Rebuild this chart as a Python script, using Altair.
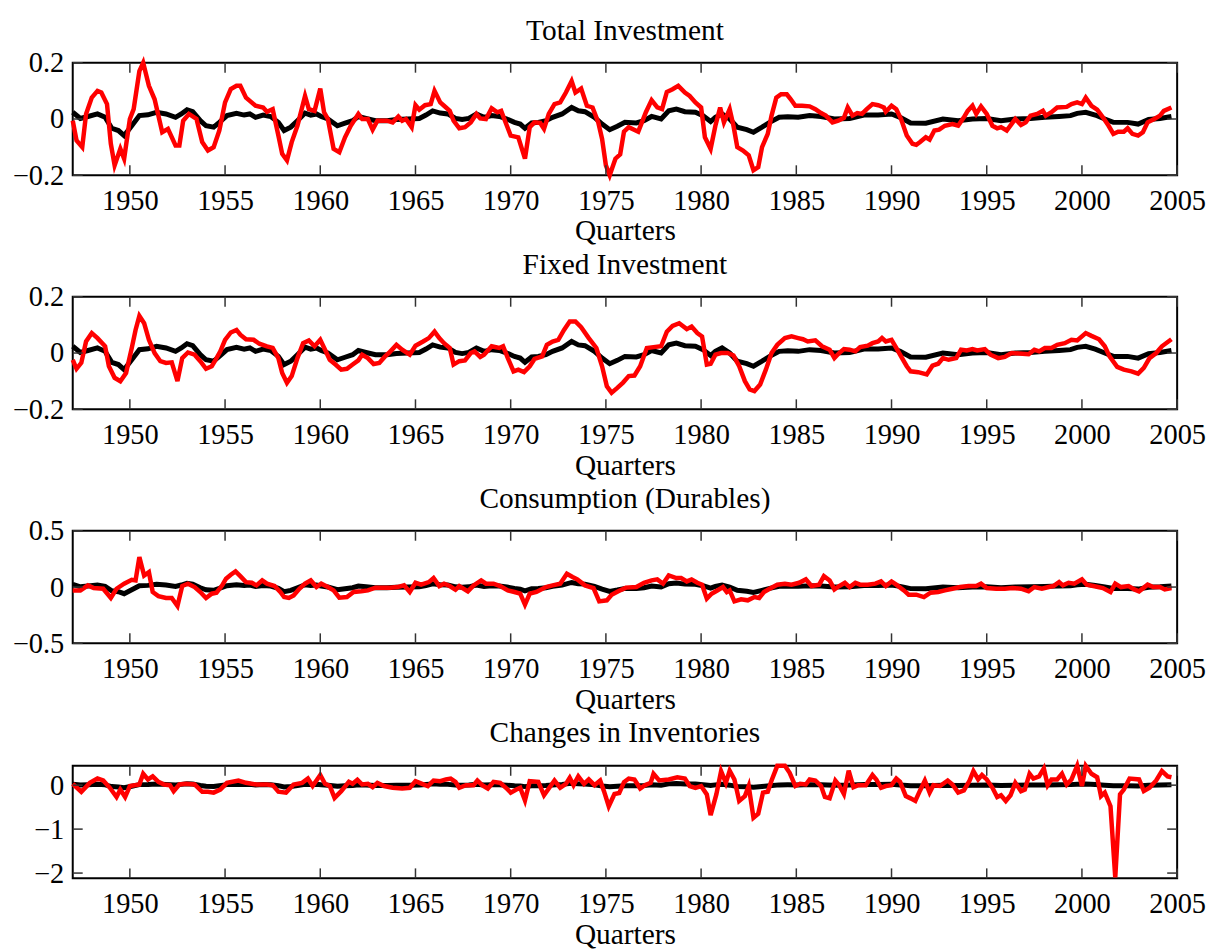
import altair as alt
import pandas as pd

YEAR_TICKS = [1950, 1955, 1960, 1965, 1970, 1975, 1980, 1985, 1990, 1995, 2000, 2005]

# Black series (same cyclical component drawn in every panel): (year, value)
BLACK = [
    (1947.0, 0.024), (1947.4, 0.002), (1947.8, 0.009), (1948.3, 0.018), (1948.7, 0.006),
    (1949.05, -0.033), (1949.4, -0.041), (1949.7, -0.059), (1950.1, -0.024), (1950.5, 0.012),
    (1950.95, 0.015), (1951.4, 0.024), (1951.9, 0.018), (1952.4, 0.006), (1952.7, 0.018),
    (1953.0, 0.033), (1953.3, 0.026), (1953.7, -0.006), (1954.0, -0.024), (1954.4, -0.029),
    (1954.7, -0.012), (1955.1, 0.012), (1955.6, 0.02), (1956.0, 0.014), (1956.3, 0.018),
    (1956.6, 0.006), (1957.0, 0.014), (1957.4, 0.009), (1957.8, -0.012), (1958.1, -0.041),
    (1958.45, -0.029), (1958.8, -0.006), (1959.2, 0.021), (1959.5, 0.014), (1959.8, 0.018),
    (1960.05, 0.009), (1960.4, 0.0), (1960.9, -0.024), (1961.3, -0.015), (1961.7, -0.006),
    (1962.0, 0.009), (1962.4, 0.002), (1962.9, -0.006), (1963.5, -0.006), (1964.0, -0.002),
    (1964.6, 0.0), (1965.2, 0.002), (1965.55, 0.014), (1965.9, 0.029), (1966.3, 0.021),
    (1966.7, 0.018), (1967.1, 0.002), (1967.45, -0.002), (1967.8, 0.002), (1968.2, 0.018),
    (1968.6, 0.006), (1969.0, 0.012), (1969.4, 0.009), (1969.8, 0.0), (1970.2, -0.012),
    (1970.5, -0.018), (1970.75, -0.033), (1971.1, -0.014), (1971.45, -0.012), (1971.85, -0.006),
    (1972.2, 0.006), (1972.7, 0.018), (1973.2, 0.041), (1973.55, 0.029), (1973.9, 0.026),
    (1974.4, 0.006), (1974.8, -0.018), (1975.2, -0.038), (1975.6, -0.026), (1976.0, -0.012),
    (1976.6, -0.014), (1977.0, -0.006), (1977.4, 0.009), (1977.9, 0.0), (1978.3, 0.029),
    (1978.7, 0.035), (1979.15, 0.026), (1979.7, 0.024), (1980.1, 0.012), (1980.5, -0.009),
    (1980.75, 0.006), (1981.1, 0.018), (1981.5, 0.0), (1981.9, -0.029), (1982.4, -0.038),
    (1982.75, -0.047), (1983.2, -0.029), (1983.6, -0.012), (1984.1, 0.006), (1984.55, 0.008),
    (1985.1, 0.006), (1985.7, 0.012), (1986.3, 0.009), (1987.0, 0.0), (1987.8, 0.002),
    (1988.55, 0.014), (1989.3, 0.014), (1990.0, 0.018), (1990.45, 0.006), (1991.0, -0.014),
    (1991.8, -0.015), (1992.7, 0.0), (1993.5, -0.006), (1994.25, 0.0), (1995.0, 0.002),
    (1995.75, -0.006), (1996.5, 0.0), (1997.3, 0.002), (1998.05, 0.006), (1998.8, 0.009),
    (1999.4, 0.012), (1999.75, 0.02), (2000.2, 0.024), (2000.7, 0.014), (2001.2, 0.0),
    (2001.65, -0.012), (2002.4, -0.012), (2002.95, -0.018), (2003.5, -0.002), (2004.1, 0.002),
    (2004.7, 0.009),
]

TOTAL_INV = [
    (1947.0, -0.006), (1947.2, -0.076), (1947.5, -0.1), (1947.7, 0.018), (1948.0, 0.076),
    (1948.3, 0.1), (1948.5, 0.094), (1948.8, 0.053), (1949.0, -0.088), (1949.2, -0.165),
    (1949.5, -0.106), (1949.7, -0.141), (1950.0, 0.0), (1950.2, 0.035), (1950.5, 0.17),
    (1950.7, 0.2), (1951.0, 0.118), (1951.3, 0.07), (1951.7, -0.047), (1952.0, -0.035),
    (1952.4, -0.094), (1952.6, -0.094), (1952.8, -0.006), (1953.1, 0.018), (1953.5, 0.0),
    (1953.8, -0.082), (1954.1, -0.112), (1954.4, -0.1), (1954.7, -0.041), (1955.0, 0.059),
    (1955.3, 0.106), (1955.6, 0.118), (1955.8, 0.118), (1956.1, 0.076), (1956.6, 0.047),
    (1957.0, 0.041), (1957.2, 0.026), (1957.5, 0.035), (1957.8, -0.059), (1958.0, -0.124),
    (1958.25, -0.147), (1958.5, -0.082), (1958.8, -0.024), (1959.2, 0.082), (1959.4, 0.035),
    (1959.7, 0.029), (1960.0, 0.108), (1960.2, 0.024), (1960.4, 0.0), (1960.7, -0.106),
    (1961.0, -0.118), (1961.3, -0.065), (1961.6, -0.024), (1962.0, 0.018), (1962.2, 0.0),
    (1962.5, 0.0), (1962.75, -0.038), (1963.0, -0.006), (1963.5, -0.006), (1963.8, -0.012),
    (1964.1, 0.009), (1964.3, -0.006), (1964.5, 0.0), (1964.8, -0.029), (1965.0, 0.049),
    (1965.2, 0.033), (1965.5, 0.049), (1965.8, 0.053), (1966.0, 0.1), (1966.3, 0.059),
    (1966.5, 0.047), (1966.8, 0.029), (1967.0, -0.006), (1967.3, -0.033), (1967.6, -0.029),
    (1967.9, -0.012), (1968.2, 0.018), (1968.4, 0.002), (1968.7, 0.0), (1969.0, 0.038),
    (1969.3, 0.024), (1969.5, 0.029), (1969.8, -0.024), (1970.0, -0.059), (1970.4, -0.065),
    (1970.75, -0.141), (1971.0, -0.029), (1971.25, -0.012), (1971.55, -0.014), (1971.75, -0.035),
    (1972.0, 0.018), (1972.3, 0.053), (1972.6, 0.059), (1972.9, 0.094), (1973.2, 0.135),
    (1973.4, 0.094), (1973.7, 0.108), (1974.0, 0.047), (1974.3, 0.041), (1974.6, -0.012),
    (1974.8, -0.071), (1975.0, -0.165), (1975.2, -0.2), (1975.5, -0.141), (1975.75, -0.126),
    (1975.95, -0.045), (1976.2, -0.029), (1976.7, -0.045), (1977.1, 0.024), (1977.4, 0.067),
    (1977.7, 0.041), (1977.95, 0.035), (1978.2, 0.096), (1978.5, 0.106), (1978.8, 0.118),
    (1979.15, 0.094), (1979.4, 0.082), (1979.7, 0.059), (1980.0, 0.041), (1980.2, -0.065),
    (1980.5, -0.106), (1980.75, -0.024), (1981.0, 0.041), (1981.2, -0.012), (1981.5, 0.035),
    (1981.7, -0.024), (1981.9, -0.1), (1982.2, -0.112), (1982.5, -0.129), (1982.75, -0.182),
    (1983.0, -0.171), (1983.2, -0.1), (1983.5, -0.053), (1983.7, 0.012), (1983.95, 0.076),
    (1984.2, 0.088), (1984.5, 0.088), (1984.7, 0.071), (1984.95, 0.047), (1985.3, 0.047),
    (1985.7, 0.045), (1986.0, 0.035), (1986.3, 0.021), (1986.55, 0.012), (1986.9, -0.012),
    (1987.2, -0.006), (1987.5, 0.004), (1987.7, 0.041), (1987.95, 0.012), (1988.2, 0.021),
    (1988.45, 0.018), (1988.7, 0.035), (1989.0, 0.053), (1989.3, 0.049), (1989.6, 0.041),
    (1989.7, 0.026), (1990.0, 0.047), (1990.25, 0.035), (1990.5, 0.0), (1990.8, -0.059),
    (1991.1, -0.088), (1991.3, -0.092), (1991.5, -0.082), (1991.8, -0.065), (1992.0, -0.073),
    (1992.25, -0.041), (1992.5, -0.038), (1992.8, -0.024), (1993.2, -0.018), (1993.5, -0.024),
    (1993.8, 0.006), (1994.0, 0.029), (1994.25, 0.047), (1994.45, 0.018), (1994.7, 0.045),
    (1995.0, 0.018), (1995.3, -0.024), (1995.55, -0.033), (1995.75, -0.029), (1996.05, -0.041),
    (1996.3, -0.018), (1996.5, 0.0), (1996.8, -0.021), (1997.05, -0.012), (1997.3, 0.012),
    (1997.65, 0.018), (1997.95, 0.029), (1998.1, 0.012), (1998.4, 0.024), (1998.7, 0.041),
    (1999.2, 0.043), (1999.45, 0.053), (1999.75, 0.059), (2000.0, 0.053), (2000.2, 0.076),
    (2000.5, 0.047), (2000.8, 0.033), (2001.1, 0.006), (2001.4, -0.024), (2001.65, -0.053),
    (2001.9, -0.045), (2002.2, -0.045), (2002.4, -0.033), (2002.65, -0.053), (2002.95, -0.059),
    (2003.2, -0.047), (2003.45, -0.012), (2003.8, 0.0), (2004.1, 0.012), (2004.3, 0.029),
    (2004.7, 0.041),
]

FIXED_INV = [
    (1947.0, -0.024), (1947.2, -0.056), (1947.45, -0.035), (1947.7, 0.041), (1948.0, 0.071),
    (1948.3, 0.053), (1948.7, 0.024), (1948.9, -0.047), (1949.2, -0.088), (1949.5, -0.1),
    (1949.8, -0.071), (1950.1, 0.018), (1950.3, 0.082), (1950.5, 0.132), (1950.75, 0.106),
    (1951.0, 0.047), (1951.3, 0.0), (1951.6, -0.029), (1951.9, -0.035), (1952.2, -0.033),
    (1952.5, -0.1), (1952.75, -0.018), (1953.05, 0.002), (1953.4, -0.006), (1953.7, -0.029),
    (1954.0, -0.056), (1954.3, -0.047), (1954.5, -0.024), (1954.75, 0.006), (1955.0, 0.047),
    (1955.3, 0.073), (1955.6, 0.082), (1955.8, 0.065), (1956.1, 0.049), (1956.5, 0.047),
    (1956.8, 0.033), (1957.2, 0.024), (1957.5, 0.018), (1957.8, -0.018), (1958.0, -0.071),
    (1958.25, -0.106), (1958.5, -0.082), (1958.8, -0.018), (1959.1, 0.035), (1959.4, 0.045),
    (1959.7, 0.024), (1960.0, 0.047), (1960.25, 0.012), (1960.5, -0.024), (1960.8, -0.041),
    (1961.1, -0.059), (1961.4, -0.056), (1961.7, -0.041), (1962.0, -0.026), (1962.2, -0.006),
    (1962.5, -0.018), (1962.8, -0.039), (1963.1, -0.035), (1963.4, -0.012), (1963.6, 0.0),
    (1964.0, 0.029), (1964.3, 0.012), (1964.7, -0.006), (1965.0, 0.026), (1965.4, 0.041),
    (1965.7, 0.053), (1966.0, 0.076), (1966.25, 0.053), (1966.5, 0.035), (1966.8, 0.018),
    (1967.0, -0.041), (1967.3, -0.029), (1967.6, -0.026), (1967.9, 0.0), (1968.1, 0.006),
    (1968.4, -0.014), (1968.6, -0.006), (1969.0, 0.024), (1969.4, 0.018), (1969.6, 0.024),
    (1969.85, -0.018), (1970.15, -0.065), (1970.4, -0.059), (1970.7, -0.068), (1971.0, -0.047),
    (1971.25, -0.021), (1971.65, -0.012), (1971.9, 0.029), (1972.2, 0.041), (1972.5, 0.047),
    (1972.8, 0.082), (1973.1, 0.112), (1973.4, 0.112), (1973.7, 0.092), (1974.1, 0.053),
    (1974.5, 0.018), (1974.8, -0.047), (1975.05, -0.118), (1975.3, -0.141), (1975.6, -0.124),
    (1975.9, -0.105), (1976.2, -0.082), (1976.5, -0.08), (1976.8, -0.047), (1977.15, 0.018),
    (1977.5, 0.021), (1977.9, 0.024), (1978.2, 0.076), (1978.5, 0.096), (1978.85, 0.106),
    (1979.25, 0.085), (1979.5, 0.094), (1979.8, 0.071), (1980.05, 0.059), (1980.3, -0.041),
    (1980.5, -0.038), (1980.75, -0.006), (1981.05, 0.0), (1981.4, 0.0), (1981.7, -0.009),
    (1982.0, -0.047), (1982.3, -0.1), (1982.55, -0.129), (1982.8, -0.135), (1983.1, -0.112),
    (1983.4, -0.059), (1983.7, 0.0), (1984.0, 0.029), (1984.4, 0.053), (1984.75, 0.059),
    (1985.1, 0.053), (1985.35, 0.049), (1985.6, 0.041), (1986.0, 0.045), (1986.35, 0.024),
    (1986.75, 0.012), (1987.0, -0.018), (1987.25, 0.0), (1987.5, 0.014), (1987.8, 0.012),
    (1988.1, 0.006), (1988.35, 0.021), (1988.75, 0.026), (1989.0, 0.035), (1989.3, 0.041),
    (1989.5, 0.053), (1989.7, 0.041), (1990.0, 0.047), (1990.25, 0.018), (1990.5, -0.012),
    (1990.8, -0.047), (1991.0, -0.065), (1991.4, -0.068), (1991.85, -0.076), (1992.15, -0.045),
    (1992.45, -0.038), (1992.7, -0.018), (1993.0, -0.024), (1993.4, -0.018), (1993.65, 0.012),
    (1993.95, 0.009), (1994.25, 0.014), (1994.5, 0.009), (1994.9, 0.014), (1995.2, -0.006),
    (1995.6, -0.018), (1995.95, -0.014), (1996.3, 0.0), (1996.7, -0.002), (1997.2, -0.004),
    (1997.5, 0.012), (1997.75, 0.006), (1998.05, 0.018), (1998.4, 0.018), (1998.7, 0.029),
    (1999.1, 0.035), (1999.45, 0.047), (1999.75, 0.045), (2000.2, 0.071), (2000.5, 0.061),
    (2000.9, 0.049), (2001.2, 0.024), (2001.45, -0.012), (2001.85, -0.049), (2002.2, -0.059),
    (2002.6, -0.065), (2002.95, -0.073), (2003.25, -0.053), (2003.55, -0.018), (2003.9, 0.0),
    (2004.2, 0.024), (2004.7, 0.049),
]

DURABLES = [
    (1947.0, -0.03), (1947.4, -0.03), (1947.8, 0.015), (1948.1, -0.009), (1948.6, -0.015),
    (1949.0, -0.097), (1949.3, -0.015), (1949.7, 0.03), (1950.1, 0.065), (1950.3, 0.059),
    (1950.5, 0.266), (1950.75, 0.103), (1951.0, 0.133), (1951.2, -0.044), (1951.5, -0.08),
    (1951.9, -0.097), (1952.2, -0.097), (1952.5, -0.168), (1952.75, 0.009), (1953.05, 0.03),
    (1953.4, 0.0), (1953.7, -0.044), (1954.0, -0.097), (1954.3, -0.059), (1954.55, -0.05),
    (1954.85, 0.015), (1955.05, 0.074), (1955.3, 0.109), (1955.55, 0.139), (1955.8, 0.097),
    (1956.1, 0.044), (1956.4, 0.038), (1956.65, 0.015), (1956.95, 0.059), (1957.2, 0.03),
    (1957.6, 0.009), (1957.9, -0.044), (1958.1, -0.089), (1958.35, -0.097), (1958.6, -0.074),
    (1958.9, -0.015), (1959.2, 0.03), (1959.5, 0.059), (1959.8, 0.0), (1960.05, 0.03),
    (1960.4, 0.0), (1960.7, -0.03), (1961.0, -0.094), (1961.4, -0.089), (1961.75, -0.044),
    (1962.15, -0.038), (1962.5, -0.03), (1962.9, -0.006), (1963.3, -0.006), (1963.65, -0.006),
    (1964.05, 0.0), (1964.4, 0.015), (1964.7, -0.044), (1965.0, 0.038), (1965.3, 0.021),
    (1965.7, 0.044), (1965.95, 0.08), (1966.25, 0.009), (1966.5, 0.03), (1966.8, 0.009),
    (1967.1, -0.024), (1967.3, 0.009), (1967.75, -0.038), (1968.05, 0.015), (1968.45, 0.059),
    (1968.7, 0.03), (1969.1, 0.03), (1969.45, 0.009), (1969.85, -0.03), (1970.2, -0.044),
    (1970.5, -0.059), (1970.75, -0.156), (1971.0, -0.059), (1971.35, -0.044), (1971.85, 0.0),
    (1972.2, 0.015), (1972.6, 0.03), (1972.95, 0.118), (1973.25, 0.089), (1973.5, 0.068),
    (1973.9, 0.015), (1974.35, -0.009), (1974.65, -0.127), (1975.05, -0.118), (1975.3, -0.068),
    (1975.65, -0.037), (1976.05, -0.005), (1976.6, 0.0), (1977.0, 0.038), (1977.4, 0.059),
    (1977.7, 0.068), (1978.0, 0.03), (1978.3, 0.103), (1978.7, 0.08), (1978.95, 0.08),
    (1979.25, 0.05), (1979.5, 0.068), (1979.8, 0.038), (1980.05, 0.021), (1980.3, -0.103),
    (1980.55, -0.059), (1980.85, -0.03), (1981.15, 0.0), (1981.35, -0.044), (1981.5, -0.03),
    (1981.75, -0.127), (1982.1, -0.109), (1982.45, -0.118), (1982.8, -0.089), (1983.05, -0.097),
    (1983.3, -0.044), (1983.6, -0.015), (1984.0, 0.021), (1984.4, 0.03), (1984.75, 0.021),
    (1985.15, 0.038), (1985.5, 0.068), (1985.8, 0.009), (1986.2, 0.021), (1986.45, 0.097),
    (1986.75, 0.059), (1987.0, -0.021), (1987.25, 0.009), (1987.55, 0.038), (1987.8, 0.0),
    (1988.1, 0.038), (1988.35, 0.021), (1988.75, 0.021), (1989.15, 0.03), (1989.45, 0.05),
    (1989.7, 0.009), (1990.0, 0.05), (1990.25, 0.021), (1990.65, -0.03), (1990.9, -0.068),
    (1991.3, -0.068), (1991.7, -0.089), (1992.05, -0.05), (1992.45, -0.044), (1992.8, -0.03),
    (1993.2, -0.015), (1993.6, 0.0), (1994.05, 0.009), (1994.45, 0.009), (1994.7, 0.03),
    (1995.0, -0.009), (1995.5, -0.015), (1995.95, -0.015), (1996.35, -0.009), (1996.8, -0.015),
    (1997.2, -0.038), (1997.5, 0.0), (1997.9, -0.015), (1998.25, 0.0), (1998.5, 0.009),
    (1998.8, 0.044), (1999.0, 0.015), (1999.3, 0.038), (1999.6, 0.03), (2000.0, 0.068),
    (2000.25, 0.021), (2000.6, 0.009), (2001.1, -0.009), (2001.5, -0.044), (2001.75, 0.03),
    (2002.05, 0.0), (2002.45, 0.009), (2002.75, -0.021), (2003.0, -0.038), (2003.45, 0.021),
    (2003.75, 0.0), (2004.1, 0.0), (2004.35, -0.021), (2004.7, -0.009),
]

INVENTORIES = [
    (1947.0, 0.03), (1947.45, -0.15), (1947.9, 0.053), (1948.3, 0.15), (1948.6, 0.106),
    (1948.95, -0.06), (1949.3, -0.27), (1949.5, -0.1), (1949.75, -0.27), (1950.0, -0.02),
    (1950.5, 0.015), (1950.7, 0.26), (1950.95, 0.13), (1951.2, 0.2), (1951.5, 0.076),
    (1951.8, 0.015), (1952.1, 0.0), (1952.3, -0.136), (1952.6, 0.015), (1952.95, 0.03),
    (1953.4, 0.015), (1953.8, -0.15), (1954.1, -0.15), (1954.4, -0.17), (1954.75, -0.1),
    (1955.1, 0.053), (1955.7, 0.106), (1956.1, 0.053), (1956.65, 0.015), (1957.2, 0.015),
    (1957.5, 0.0), (1957.8, -0.15), (1958.2, -0.17), (1958.6, 0.015), (1959.05, 0.053),
    (1959.35, 0.15), (1959.6, -0.02), (1960.0, 0.23), (1960.25, 0.03), (1960.5, -0.02),
    (1960.75, -0.29), (1961.1, -0.136), (1961.5, 0.076), (1961.7, 0.03), (1961.95, 0.12),
    (1962.2, 0.015), (1962.5, 0.03), (1962.75, -0.045), (1963.0, 0.053), (1963.35, -0.02),
    (1963.8, -0.06), (1964.3, -0.076), (1964.7, -0.06), (1965.0, 0.09), (1965.35, 0.03),
    (1965.65, -0.02), (1965.95, 0.106), (1966.3, 0.09), (1966.6, 0.13), (1966.85, 0.15),
    (1967.1, 0.076), (1967.3, -0.06), (1967.65, 0.0), (1968.05, 0.0), (1968.25, 0.106),
    (1968.5, 0.0), (1968.8, -0.076), (1969.1, 0.076), (1969.45, 0.053), (1969.75, -0.06),
    (1970.0, -0.17), (1970.3, -0.1), (1970.5, -0.06), (1970.75, -0.35), (1971.0, 0.09),
    (1971.45, 0.076), (1971.75, -0.23), (1972.0, -0.076), (1972.3, 0.106), (1972.6, -0.06),
    (1972.9, 0.03), (1973.1, 0.167), (1973.3, 0.0), (1973.55, 0.2), (1973.85, 0.03),
    (1974.1, 0.13), (1974.4, 0.0), (1974.7, 0.106), (1974.9, -0.136), (1975.15, -0.48),
    (1975.45, -0.2), (1975.7, -0.18), (1975.95, 0.07), (1976.2, 0.15), (1976.5, 0.13),
    (1976.8, -0.076), (1977.05, 0.0), (1977.35, 0.053), (1977.5, 0.26), (1977.8, 0.106),
    (1978.3, 0.13), (1978.75, 0.18), (1979.15, 0.15), (1979.4, -0.02), (1979.7, -0.06),
    (1980.0, -0.02), (1980.3, -0.21), (1980.5, -0.68), (1980.8, -0.21), (1981.05, 0.32),
    (1981.3, 0.053), (1981.5, 0.33), (1981.75, 0.13), (1982.0, -0.36), (1982.3, -0.25),
    (1982.5, -0.02), (1982.75, -0.74), (1983.0, -0.65), (1983.25, -0.17), (1983.5, -0.15),
    (1983.7, 0.106), (1984.0, 0.44), (1984.4, 0.44), (1984.65, 0.28), (1984.95, -0.02),
    (1985.2, 0.03), (1985.5, 0.015), (1985.7, 0.13), (1986.0, 0.106), (1986.3, -0.02),
    (1986.5, -0.27), (1986.75, -0.3), (1987.05, 0.106), (1987.25, 0.0), (1987.5, -0.2),
    (1987.75, 0.33), (1988.0, -0.045), (1988.25, 0.0), (1988.65, 0.0), (1989.0, 0.23),
    (1989.2, 0.13), (1989.45, -0.06), (1989.7, -0.02), (1990.0, 0.0), (1990.25, 0.15),
    (1990.45, 0.076), (1990.75, -0.25), (1991.0, -0.3), (1991.25, -0.36), (1991.5, -0.12),
    (1991.75, 0.106), (1992.0, -0.17), (1992.2, 0.0), (1992.55, -0.02), (1992.95, 0.106),
    (1993.2, 0.015), (1993.5, -0.17), (1993.8, -0.12), (1994.1, 0.106), (1994.3, 0.32),
    (1994.55, 0.13), (1994.75, 0.23), (1995.0, 0.13), (1995.3, -0.06), (1995.55, -0.27),
    (1995.75, -0.23), (1996.0, -0.36), (1996.25, -0.23), (1996.5, 0.053), (1996.8, -0.136),
    (1997.0, -0.1), (1997.25, 0.26), (1997.45, 0.15), (1997.75, 0.2), (1998.0, 0.38),
    (1998.2, 0.0), (1998.4, 0.13), (1998.7, 0.13), (1998.95, 0.26), (1999.2, 0.015),
    (1999.45, 0.13), (1999.75, 0.44), (2000.0, -0.02), (2000.2, 0.44), (2000.5, 0.26),
    (2000.8, 0.18), (2001.0, -0.25), (2001.2, -0.17), (2001.5, -0.48), (2001.75, -2.1),
    (2002.0, -0.21), (2002.2, -0.1), (2002.5, 0.15), (2003.0, 0.13), (2003.25, -0.136),
    (2003.55, -0.06), (2003.9, 0.106), (2004.2, 0.32), (2004.5, 0.2), (2004.7, 0.18),
]

# title, red series, y domain, y tick values, title offset
PANELS = [
    ("Total Investment", TOTAL_INV, [-0.2, 0.2], [-0.2, 0, 0.2], -27),
    ("Fixed Investment", FIXED_INV, [-0.2, 0.2], [-0.2, 0, 0.2], -27),
    ("Consumption (Durables)", DURABLES, [-0.5, 0.5], [-0.5, 0, 0.5], -27),
    ("Changes in Inventories", INVENTORIES, [-2.12, 0.44], [-2, -1, 0], -21),
]

FONT = "Liberation Serif"
W, H = 1109, 113
TICK = 10


def make_panel(title, red_pts, ydom, yticks, toff):
    red_df = pd.DataFrame(red_pts, columns=["year", "value"])
    blk_df = pd.DataFrame(BLACK, columns=["year", "value"])
    xt_df = pd.DataFrame({"year": YEAR_TICKS})
    yt_df = pd.DataFrame({"value": yticks})

    x_enc = alt.X(
        "year:Q",
        scale=alt.Scale(domain=[1947, 2005], nice=False, zero=False),
        axis=alt.Axis(
            values=YEAR_TICKS, format="d", title="Quarters", ticks=False,
            domain=False, grid=False, labelPadding=11, labelFontSize=28.5,
            titleFontSize=29.5, titlePadding=0, minExtent=42, maxExtent=42,
            labelFlush=False, labelOverlap=False,
        ),
    )
    y_enc = alt.Y(
        "value:Q",
        scale=alt.Scale(domain=ydom, nice=False, zero=False),
        axis=alt.Axis(
            values=yticks, format="~g", title=None, ticks=False, domain=False,
            grid=False, labelPadding=9, labelFontSize=28.5, minExtent=64,
            maxExtent=64, labelFlush=False, labelOverlap=False,
        ),
    )

    black = alt.Chart(blk_df).mark_line(color="black", strokeWidth=5).encode(x=x_enc, y=y_enc)
    red = alt.Chart(red_df).mark_line(color="#ff0000", strokeWidth=4.5).encode(x=x_enc, y=y_enc)
    tick_style = dict(color="#333333", strokeWidth=1.5)
    bot = alt.Chart(xt_df).mark_rule(**tick_style).encode(x=x_enc, y=alt.value(H), y2=alt.value(H - TICK))
    top = alt.Chart(xt_df).mark_rule(**tick_style).encode(x=x_enc, y=alt.value(0), y2=alt.value(TICK))
    left = alt.Chart(yt_df).mark_rule(**tick_style).encode(y=y_enc, x=alt.value(0), x2=alt.value(TICK))
    right = alt.Chart(yt_df).mark_rule(**tick_style).encode(y=y_enc, x=alt.value(W - TICK), x2=alt.value(W))

    return alt.layer(black, red, bot, top, left, right).properties(
        width=W,
        height=H,
        title=alt.TitleParams(
            title, fontSize=29.5, font=FONT, fontWeight="normal", offset=toff,
            baseline="bottom", anchor="middle", color="black",
        ),
    )


panels = [make_panel(*p) for p in PANELS]

chart = (
    alt.vconcat(*panels, spacing=2)
    .resolve_scale(x="independent", y="independent")
    .properties(padding={"left": 0, "top": 5, "right": 5, "bottom": 0})
    .configure_view(stroke="black", strokeWidth=2)
    .configure_axis(
        labelFont=FONT, titleFont=FONT, labelColor="black", titleColor="black",
        titleFontWeight="normal",
    )
)

chart.save("out.html", embed_options={"renderer": "svg", "actions": False})
